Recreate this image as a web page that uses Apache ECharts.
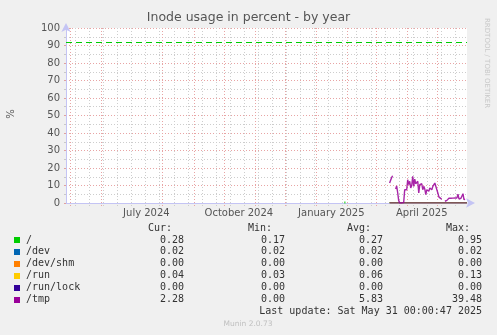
<!DOCTYPE html>
<html><head><meta charset="utf-8">
<script src="https://cdn.jsdelivr.net/npm/echarts@6/dist/echarts.min.js"></script>
<style>html,body{margin:0;padding:0;background:#f0f0f0;}#c{width:497px;height:335px;}</style>
</head><body><div id="c"></div>
<script>
// ---- data ----
const xStart = Date.UTC(2024, 3, 27);
const xEnd = Date.UTC(2025, 4, 31);
const yMin = 0, yMax = 100, yInterval = 10;
const xLabelNames = ['July 2024', 'October 2024', 'January 2025', 'April 2025'];
const xLabelTimes = [Date.UTC(2024, 6, 16), Date.UTC(2024, 9, 16), Date.UTC(2025, 0, 16), Date.UTC(2025, 3, 16)];
const seriesNames = ['/', '/dev', '/dev/shm', '/run', '/run/lock', '/tmp'];
const seriesColors = ['#00CC00', '#0066B3', '#FF8000', '#FFCC00', '#330099', '#990099'];
const curVals = ['0.28', '0.02', '0.00', '0.04', '0.00', '2.28'];
const minVals = ['0.17', '0.02', '0.00', '0.03', '0.00', '0.00'];
const avgVals = ['0.27', '0.02', '0.00', '0.06', '0.00', '5.83'];
const maxVals = ['0.95', '0.02', '0.00', '0.13', '0.00', '39.48'];
const warningLevel = 92;
const dataStart = Date.UTC(2025, 2, 15);
const dataEnd = Date.UTC(2025, 4, 30);
// "/" isolated early samples (late January 2025)
const rootEarlyDates = [Date.UTC(2025, 0, 29), Date.UTC(2025, 0, 30)];
const rootEarlyValues = [0.3, 0.3];
// flat low series over the recent period (start/end values)
const rootLevel = 0.28, devLevel = 0.02, shmLevel = 0.0, runLevel = 0.05, lockLevel = 0.0;
// /tmp daily values from 2025-03-15
const tmpValues = [
  11.4, 13.0, 14.5, 15.6, null, null, 8.0, 9.8, 6.0, 1.5,
  0, 0, 0, 0, 0.2, 7.6, 7.3, 7.6, 13.3, 10.5,
  12.4, 8.6, 10.0, 15.2, 9.5, 13.7, 11.0, 10.5, 12.4, 5.7,
  10.5, 11.4, 11.0, 7.6, 9.5, 8.0, 4.8, 7.6, 7.0, 6.7,
  8.6, 8.0, 7.6, 9.5, 10.0, 11.4, 10.5, 7.6, 5.7, 3.5,
  2.9, 2.5, 2.3, null, null, 1.0, 1.2, 1.5, 2.0, 2.7,
  2.7, 2.7, 2.7, 2.8, 2.9, 2.9, 2.9, 2.9, 5.1, 2.3,
  2.5, 2.7, 2.7, 5.3, 1.9, 2.3
];

// ---- helpers ----
const DAY = 86400000;
const tmpData = tmpValues.map((v, i) => [dataStart + i * DAY, v]);
const flat = v => [[dataStart, v], [dataEnd + DAY, v]];

// vertical grid positions: month starts (major), fortnightly (minor)
const gridLines = [];
for (let y = 2024, m = 4; Date.UTC(y, m, 1) < xEnd; m++) {
  if (m > 11) { m = 0; y++; }
  const t = Date.UTC(y, m, 1);
  if (t > xStart && t < xEnd) gridLines.push([t, 1]);
}
for (let t = Date.UTC(2024, 4, 6); t < xEnd; t += 14 * DAY) gridLines.push([t, 0]);

const chart = echarts.init(document.getElementById('c'), null, {renderer: 'canvas'});
const FONT = 'DejaVu Sans';
const axisCol = '#c4c4f4';

const graphics = [
  {type: 'text', left: 'center', top: 11, style: {text: 'Inode usage in percent - by year', font: '12.5px "DejaVu Sans"', fill: '#555'}},
  {type: 'text', x: 11, y: 114, rotation: Math.PI / 2, style: {text: '%', font: '10px "DejaVu Sans"', fill: '#555', align: 'center', verticalAlign: 'middle'}},
  {type: 'text', x: 487, y: 18, rotation: -Math.PI / 2, style: {text: 'RRDTOOL / TOBI OETIKER', font: '7px "DejaVu Sans"', fill: '#c8c8c8', align: 'left', verticalAlign: 'middle'}},
  {type: 'text', x: 248, y: 324, style: {text: 'Munin 2.0.73', font: '7.5px "DejaVu Sans"', fill: '#c0c0c0', align: 'center', verticalAlign: 'middle'}}
];
const hdrY = 228, row0 = 240, rowStep = 11.9;
[['Cur:', 172], ['Min:', 272], ['Avg:', 371], ['Max:', 470]].forEach(([t, x]) => {
  graphics.push({type: 'text', x: x, y: hdrY, style: {text: t, font: '10px "DejaVu Sans Mono"', fill: '#333', align: 'right', verticalAlign: 'middle'}});
});
seriesNames.forEach((n, i) => {
  const y = row0 + i * rowStep;
  graphics.push({type: 'rect', shape: {x: 14, y: Math.round(y) - 3, width: 6, height: 6}, style: {fill: seriesColors[i]}});
  graphics.push({type: 'text', x: 26, y: y, style: {text: n, font: '10px "DejaVu Sans Mono"', fill: '#333', align: 'left', verticalAlign: 'middle'}});
  [[curVals, 184], [minVals, 285], [avgVals, 383], [maxVals, 482]].forEach(([arr, x]) => {
    graphics.push({type: 'text', x: x, y: y, style: {text: arr[i], font: '10px "DejaVu Sans Mono"', fill: '#333', align: 'right', verticalAlign: 'middle'}});
  });
});
graphics.push({type: 'text', x: 482, y: 311, style: {text: 'Last update: Sat May 31 00:00:47 2025', font: '10px "DejaVu Sans Mono"', fill: '#333', align: 'right', verticalAlign: 'middle'}});

const lineSeries = (name, data, color, z, width, opacity) => ({
  type: 'line', name: name, data: data, showSymbol: false, symbol: 'none', connectNulls: false,
  lineStyle: {color: color, width: width || 1, opacity: opacity == null ? 1 : opacity}, itemStyle: {color: color}, z: z, silent: true, animation: false
});

chart.setOption({
  animation: false,
  backgroundColor: '#f0f0f0',
  textStyle: {fontFamily: FONT},
  grid: {left: 66, top: 28, width: 401, height: 175, containLabel: false, backgroundColor: '#ffffff', show: true, borderWidth: 0},
  xAxis: {
    type: 'value', min: xStart, max: xEnd,
    axisLine: {show: true, lineStyle: {color: axisCol, width: 1}, symbol: ['none', 'arrow'], symbolSize: [7, 9], symbolOffset: [0, 8]},
    axisTick: {show: false},
    splitLine: {show: false},
    axisLabel: {
      show: true, customValues: xLabelTimes, margin: 5, color: '#555', fontSize: 10, fontFamily: FONT,
      formatter: v => { const i = xLabelTimes.indexOf(v); return i >= 0 ? xLabelNames[i] : ''; }
    }
  },
  yAxis: {
    type: 'value', min: yMin, max: yMax, interval: yInterval,
    axisLine: {show: true, lineStyle: {color: axisCol, width: 1}, symbol: ['none', 'arrow'], symbolSize: [7, 9], symbolOffset: [0, 5]},
    axisTick: {show: true, length: 2, lineStyle: {color: '#e0a0a0'}},
    minorTick: {show: true, splitNumber: 2, length: 2, lineStyle: {color: '#c8c8c8'}},
    axisLabel: {margin: 6, color: '#555', fontSize: 10, fontFamily: FONT},
    splitLine: {show: true, lineStyle: {color: '#e8a4a4', type: [1, 2], width: 1}},
    minorSplitLine: {show: true, lineStyle: {color: '#cdcdcd', type: [1, 2], width: 1}}
  },
  graphic: graphics,
  series: [
    {
      type: 'custom', silent: true, clip: false, z: 1, animation: false,
      data: gridLines,
      renderItem: (params, api) => {
        const t = api.value(0), major = api.value(1);
        const p1 = api.coord([t, yMax]), p2 = api.coord([t, yMin]);
        const x = Math.round(p1[0]) + 0.5;
        return {type: 'line', shape: {x1: x, y1: p1[1], x2: x, y2: p2[1] + 3},
          style: {stroke: major ? '#e8a4a4' : '#cdcdcd', lineWidth: 1, lineDash: [1, 2]}};
      }
    },
    lineSeries('/', rootEarlyDates.map((d, i) => [d, rootEarlyValues[i]]), seriesColors[0], 3, 2),
    Object.assign(lineSeries('/', flat(rootLevel), seriesColors[0], 3), {
      markLine: {silent: true, symbol: 'none', label: {show: false}, animation: false,
        lineStyle: {color: seriesColors[0], type: [6, 4], width: 1}, data: [{yAxis: warningLevel}]}
    }),
    lineSeries('/dev', flat(devLevel), seriesColors[1], 3),
    lineSeries('/dev/shm', flat(shmLevel), seriesColors[2], 3),
    lineSeries('/run', flat(runLevel), seriesColors[3], 3),
    lineSeries('/run/lock', flat(lockLevel), seriesColors[4], 3, 1.2),
    lineSeries('/tmp', tmpData, seriesColors[5], 4, 1.4, 0.85)
  ]
});
</script></body></html>
